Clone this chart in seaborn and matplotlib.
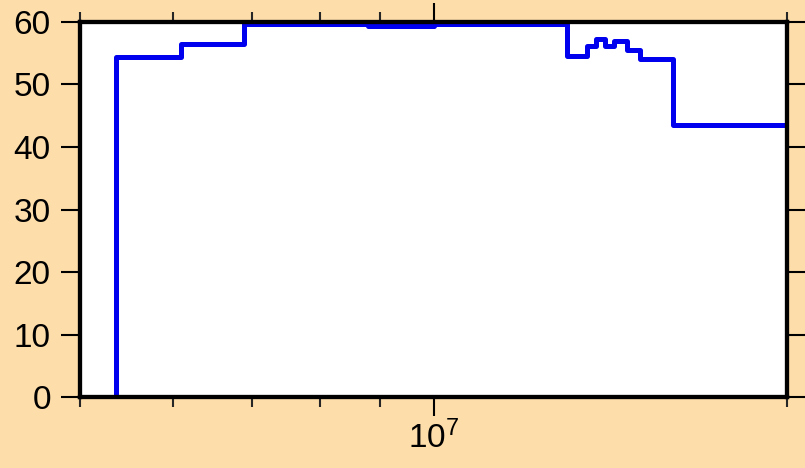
import matplotlib
matplotlib.use('Agg')
import matplotlib.pyplot as plt
import matplotlib.ticker as mticker
import seaborn as sns
import pandas as pd

# bin edges (log axis) and step levels
edges = [5.37e6, 6.09e6, 6.9e6, 8.8e6, 1.0e7, 1.3e7, 1.35e7, 1.375e7,
         1.4e7, 1.425e7, 1.46e7, 1.5e7, 1.6e7, 2.0e7]
levels = [54.4, 56.5, 59.7, 59.35, 59.7, 54.6, 56.2, 57.3,
          56.2, 57.0, 55.5, 54.1, 43.5]
yticks = [0, 10, 20, 30, 40, 50, 60]
minor_x = [5e6, 6e6, 7e6, 8e6, 9e6, 2e7]
major_x = [1e7]

bg = '#FDDDAA'

sns.set_style('ticks')
plt.rcParams['font.family'] = ['Liberation Sans', 'DejaVu Sans']
plt.rcParams['mathtext.fontset'] = 'custom'
plt.rcParams['mathtext.rm'] = 'Liberation Sans'
plt.rcParams['mathtext.default'] = 'regular'

# outline of the steps, closed down to zero at both ends
xs = [edges[0]] + edges + [edges[-1]]
ys = [0] + levels + [levels[-1], 0]
df = pd.DataFrame({'freq': xs, 'value': ys})

fig = plt.figure(figsize=(8.05, 4.68), dpi=100, facecolor=bg)
ax = fig.add_axes([0.0994, 0.1517, 0.8783, 0.8013])
ax.set_facecolor('white')

sns.lineplot(data=df, x='freq', y='value', estimator=None, sort=False,
             drawstyle='steps-post', color='#0000EE', lw=3.6, ax=ax)

ax.set_xscale('log')
ax.set_xlim(5e6, 2e7)
ax.set_ylim(0, 60)
ax.xaxis.set_major_locator(mticker.FixedLocator(major_x))
ax.xaxis.set_major_formatter(mticker.FixedFormatter(['$10^{7}$']))
ax.xaxis.set_minor_locator(mticker.FixedLocator(minor_x))
ax.xaxis.set_minor_formatter(mticker.NullFormatter())
ax.set_yticks(yticks)
ax.set_xlabel('')
ax.set_ylabel('')

for s in ax.spines.values():
    s.set_visible(True)
    s.set_linewidth(3.1)
    s.set_color('black')

ax.tick_params(axis='both', which='major', direction='out', length=14,
               width=1.5, labelsize=24, colors='black')
ax.tick_params(axis='x', which='major', top=True, pad=3)
ax.tick_params(axis='y', which='major', right=True, pad=7)
ax.tick_params(axis='x', which='minor', direction='out', length=7,
               width=1.5, top=True, bottom=True)

fig.savefig('out.png', dpi=100, facecolor=bg)
